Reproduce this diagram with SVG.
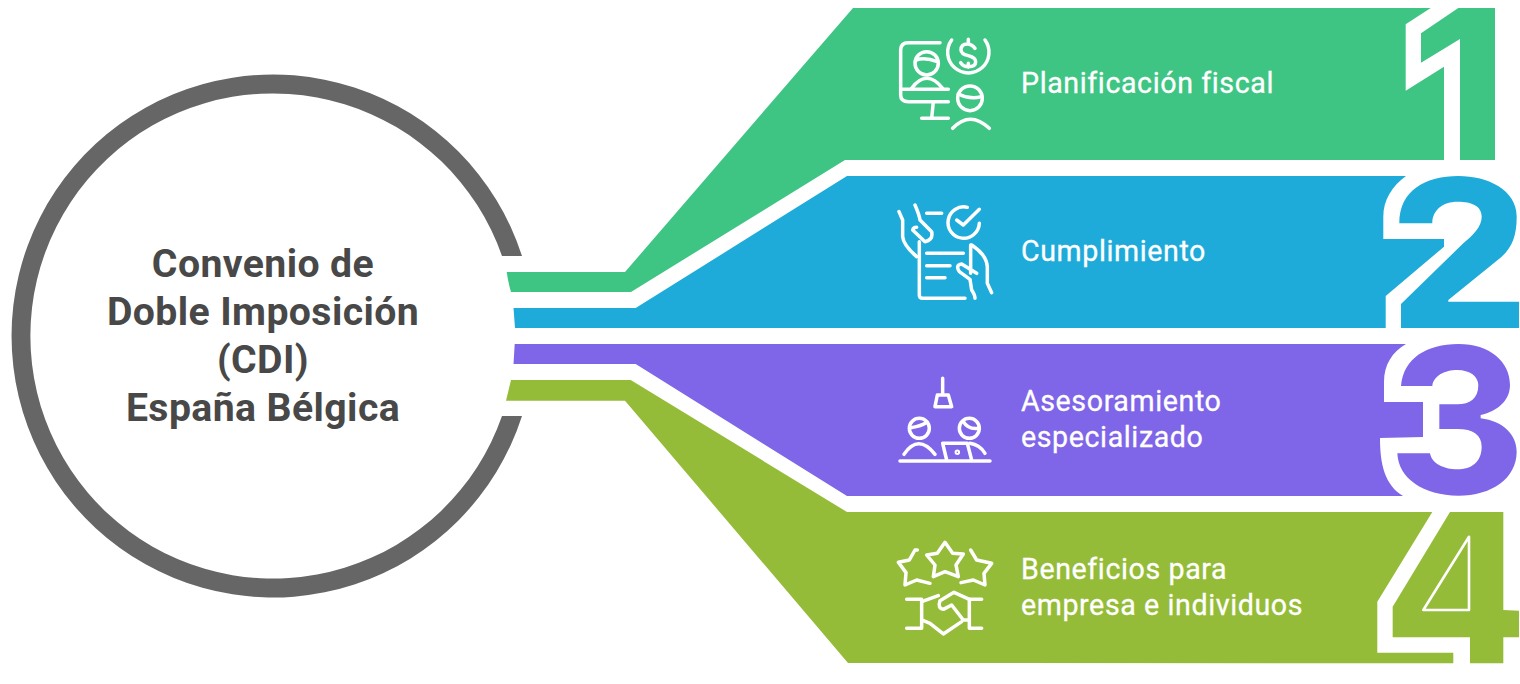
<svg xmlns="http://www.w3.org/2000/svg" width="1520" height="684" viewBox="0 0 1520 684">
<style>
.t{font-family:Roboto,"Liberation Sans",sans-serif;font-size:28.6px;font-weight:400;fill:#fff;stroke:#fff;stroke-width:.3px;letter-spacing:.6px}
.h{font-family:Roboto,"Liberation Sans",sans-serif;font-size:39.2px;font-weight:700;fill:#484848;text-anchor:middle;letter-spacing:.4px}
.i{fill:none;stroke:#fff;stroke-width:10.5;stroke-linecap:round;stroke-linejoin:round}
.green{fill:#3fc583}.blue{fill:#1eabda}.purple{fill:#7f65e8}.olive{fill:#95bc38}
</style>
<rect width="1520" height="684" fill="#fff"/>
<g id="center">
<path fill="#666" d="M522,256A261.5,261.5 0 1 0 522,416L502,416A242.6,242.6 0 1 1 502,256Z"/>
<text class="h" x="263" y="277">Convenio de</text>
<text class="h" x="263" y="325">Doble Imposición</text>
<text class="h" x="263" y="373">(CDI)</text>
<text class="h" x="263" y="421">España Bélgica</text>
</g>
<g id="node-1">
<path class="green" d="M506.7,272L625,272L853,8L1495,8L1495,160L845,160L631,292L511,292Q508,282 506.7,272Z"/>
<path fill="#fff" d="M1430.7,8L1405.7,24.3L1405.7,90.7L1444,66.7L1444,160L1460,160L1460,39L1421,62.7L1421,33.3L1458.3,8Z"/>
<g class="i" transform="translate(880,20) scale(.3333)">
<path d="M180,68H85Q62,68 62,90V225Q62,245 85,245H205M65,208H205M160,245L155,295M125,295H205"/>
<circle cx="140" cy="130" r="35"/><path d="M108,120Q135,110 172,125M95,205Q140,145 188,205"/>
<path d="M215,60A62,62 0 1 0 315,60"/>
<path d="M285,85Q275,72 262,72Q243,72 243,90Q243,102 265,107Q287,113 287,125Q287,140 265,140Q250,140 242,128M265,58V72M265,130V142"/>
<circle cx="270" cy="235" r="37"/><path d="M235,222Q270,240 305,230M218,325Q270,270 328,325"/>
</g>
<text class="t" x="1021" y="93">Planificación fiscal</text>
</g>
<g id="node-2">
<path class="blue" d="M513.5,308L635.7,308L847,176L1406,176C1392,186 1383.3,200 1383.3,217L1383.3,239L1444,239L1444,246.7L1385.7,296L1385.7,328L515,328Z"/>
<path class="blue" d="M1401,328L1519,328L1519,301.7L1448.3,301.7L1448.3,300L1501.7,256.7C1512,247 1516.7,236 1516.7,216.7C1516.7,190 1488,176 1458.3,176C1426,176 1399.3,190 1399.3,223.3L1432.3,223.3C1432.3,210 1443,201.7 1457.3,201.7C1472,201.7 1481.7,206 1481.7,216.7C1481.7,227 1473,235 1463.3,243.3L1401,304Z"/>
<g class="i" transform="translate(880,190) scale(.3333)">
<path d="M118,155V315Q118,325 128,325H255M140,70H185M140,190H250M140,227H210M140,263H195M272,165V250"/>
<path d="M298,100A47,47 0 1 1 262,52M230,90L250,105L298,58"/>
<path d="M57,65L68,90V140Q70,165 110,200M105,45Q118,75 120,90L155,125Q160,150 135,155L98,120Q100,112 110,112"/>
<path d="M275,165Q320,195 322,230V280L335,308M290,250L245,222Q225,225 238,245L270,268L275,300Q285,315 285,325"/>
</g>
<text class="t" x="1021" y="261">Cumplimiento</text>
</g>
<g id="node-3">
<path class="purple" d="M514.7,344L513.5,364L635.7,364L847,496L1403,496C1385,485 1380,465 1380,438L1423,437L1423,402L1384,402L1384,382C1384,365 1392,352 1406,344Z"/>
<path class="purple" transform="translate(1370,335) scale(.3333)" d="M93,153C100,70 170,27 265,27C360,27 420,80 420,150C420,195 385,228 332,240L332,250C400,258 440,300 440,350C440,430 365,482 265,482C160,482 85,430 82,355L180,355C185,385 220,403 262,403C305,403 335,380 335,335C335,300 310,282 262,282L208,282L208,208L262,208C300,208 325,190 325,150C325,125 300,105 262,105C225,105 190,122 187,153Z"/>
<g class="i" transform="translate(880,365) scale(.3333)">
<path d="M188,40V90M172,90H205L215,125H165Z"/>
<circle cx="118" cy="190" r="30"/><path d="M92,188Q120,185 142,172M72,268Q115,205 165,268"/>
<circle cx="268" cy="190" r="30"/><path d="M250,170Q265,195 296,190M270,235Q300,240 315,265"/>
<path d="M200,285L188,235H262L275,285M60,288H330"/>
<circle cx="232" cy="262" r="3"/>
</g>
<text class="t" x="1021" y="411">Asesoramiento</text>
<text class="t" x="1021" y="447">especializado</text>
</g>
<g id="node-4">
<path class="olive" d="M511,380L630.7,380L847,512L1432.3,512L1377.3,601.7L1377.3,652.7L1453.3,652.7L1453.3,663.3L848,663L625,400.7L506,400.7Z"/>
<path class="olive" transform="translate(1370,335) scale(.3333)" d="M240,531L68,815L68,907L300,907L300,985L400,985L400,907L447,907L447,827L400,825L400,531Z"/>
<path fill="none" stroke="#fff" stroke-width="2.6" stroke-linejoin="round" d="M1469,536.7L1423.3,610L1469,610Z"/>
<g class="i" transform="translate(880,530) scale(.3333)">
<path d="M195,37L218,70L250,72L228,105L235,140L195,125L160,140L165,105L140,75L172,70Z"/>
<path d="M112,60H105L88,90L55,97L78,128L75,165L110,150L150,160M272,60L290,90L335,100L312,130L315,165L280,150L243,158"/>
<path d="M80,208H125V295H80M305,208H268V295H305"/>
<path d="M125,215L175,197M268,208L222,187L180,212Q172,235 190,238L215,225L250,270H268M125,270L150,280L190,312L245,275"/>
</g>
<text class="t" x="1021" y="579">Beneficios para</text>
<text class="t" x="1021" y="615">empresa e individuos</text>
</g>
</svg>
